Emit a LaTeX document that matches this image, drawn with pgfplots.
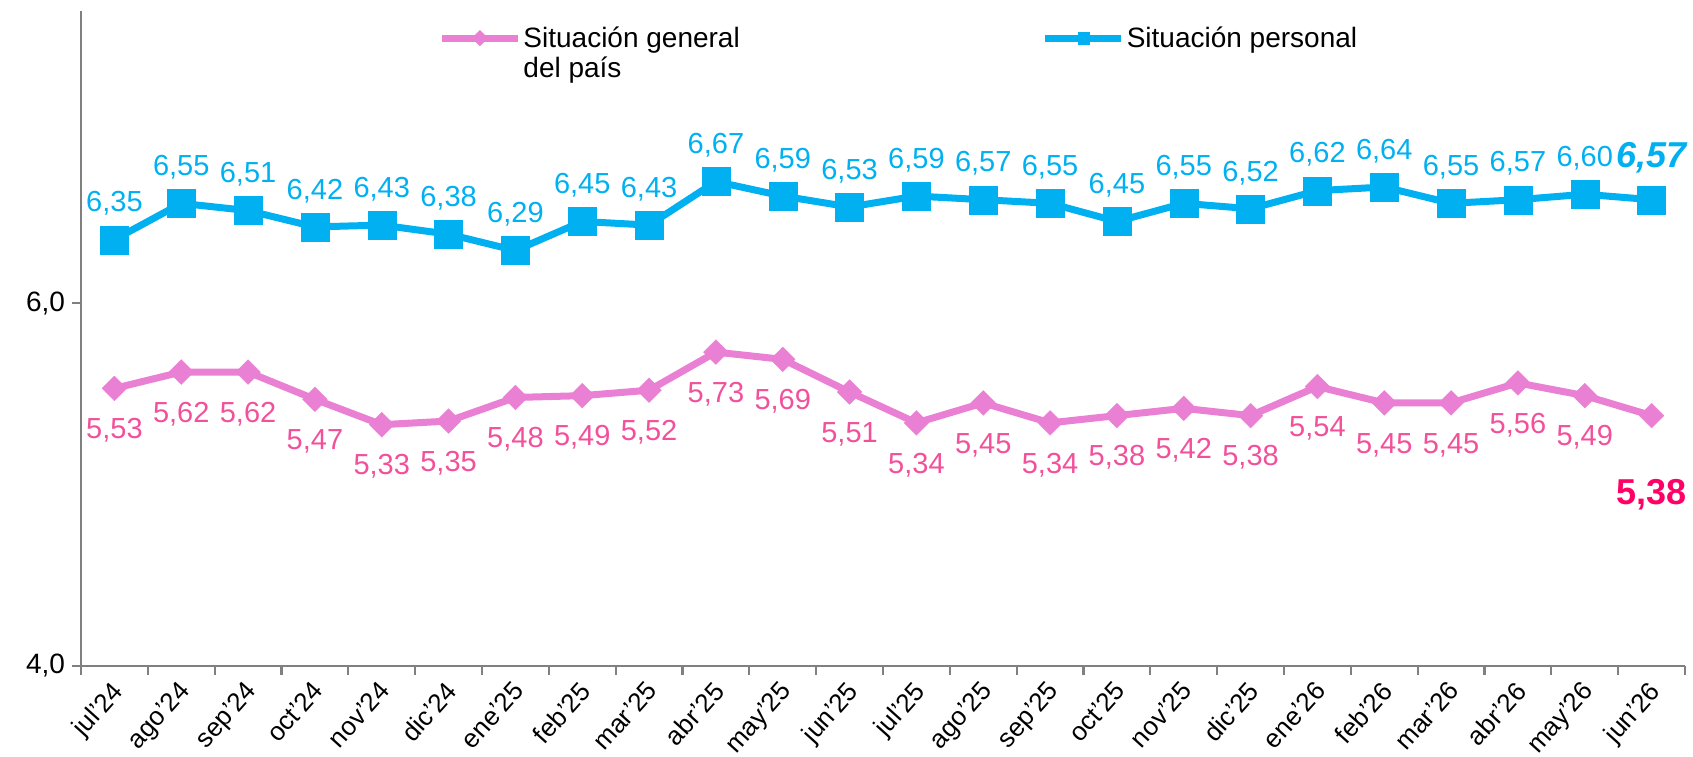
\documentclass[border=0pt]{standalone}
\usepackage{fontspec}
\setmainfont{Liberation Sans}
\usepackage{pgfplots}
\pgfplotsset{compat=1.18}
\usetikzlibrary{calc}
\definecolor{persblue}{RGB}{0,176,240}
\definecolor{paispink}{RGB}{234,128,212}
\definecolor{labpink}{RGB}{242,80,155}
\definecolor{lastpink}{RGB}{255,0,102}
\definecolor{axgray}{RGB}{128,128,128}

\begin{document}
\begin{tikzpicture}
\begin{axis}[
  scale only axis, width=802pt, height=327.5pt,
  xmin=-0.5, xmax=23.5, ymin=4, ymax=7.61,
  axis x line*=bottom, axis y line*=left,
  axis line style={axgray, line width=1.1pt},
  tick align=outside, major tick length=4.5pt,
  tick style={axgray, line width=1.1pt},
  xtick={-0.5,0.5,...,23.5}, x tick label as interval,
  xticklabels={jul'24,ago'24,sep'24,oct'24,nov'24,dic'24,ene'25,feb'25,mar'25,abr'25,may'25,jun'25,
    jul'25,ago'25,sep'25,oct'25,nov'25,dic'25,ene'26,feb'26,mar'26,abr'26,may'26,jun'26},
  xticklabel style={rotate=48, anchor=north east, inner sep=1pt, xshift=-2pt, yshift=1pt,
    font=\fontsize{13}{15}\selectfont},
  ytick={4,6},
  yticklabel style={font=\fontsize{14}{16}\selectfont,
    /pgf/number format/.cd, fixed, fixed zerofill, precision=1, use comma, assume math mode=true},
  clip=false,
  legend style={at={(rel axis cs:0.2226,0.98)}, anchor=north west, draw=none, fill=none,
    inner sep=0pt, legend columns=2, font=\fontsize{14}{14.5}\selectfont,
    cells={anchor=base west}, nodes={inner sep=1pt},
    /tikz/every even column/.append style={column sep=150pt}},
  legend image code/.code={\draw[mark repeat=2, mark phase=2, #1, line width=3.5pt, mark size=2.8pt]
    plot coordinates {(0pt,4.5pt) (19pt,4.5pt) (38pt,4.5pt)};},
  visualization depends on={value \coordindex \as \idx},
]
\addplot[color=paispink, line width=3.5pt, mark=square*,
  mark options={rotate=45, fill=paispink, draw=paispink, line width=0.1pt}, mark size=4.4pt,
  nodes near coords={\ifnum\idx=23 \fontsize{18}{20}\selectfont\bfseries\color{lastpink}\fi
    \pgfmathprintnumber[fixed, fixed zerofill, precision=2, use comma, assume math mode=true]{\pgfplotspointmeta}},
  every node near coord/.append style={font=\fontsize{14.5}{17}\selectfont, text=labpink,
    anchor=center, yshift={-21pt-18.5pt*(\idx==23)}}]
coordinates {
(0,5.53)(1,5.62)(2,5.62)(3,5.47)(4,5.33)(5,5.35)(6,5.48)(7,5.49)(8,5.52)(9,5.73)(10,5.69)(11,5.51)
(12,5.34)(13,5.45)(14,5.34)(15,5.38)(16,5.42)(17,5.38)(18,5.54)(19,5.45)(20,5.45)(21,5.56)(22,5.49)(23,5.38)
};
\addlegendentry{\begin{tabular}[t]{@{}l@{}}Situación general\\[0.5pt]del país\end{tabular}}
\addplot[color=persblue, line width=3.5pt, mark=square*,
  mark options={fill=persblue, draw=persblue, line width=0.1pt}, mark size=7pt,
  nodes near coords={\ifnum\idx=23 \fontsize{18}{20}\selectfont\bfseries\itshape\fi
    \pgfmathprintnumber[fixed, fixed zerofill, precision=2, use comma, assume math mode=true]{\pgfplotspointmeta}},
  every node near coord/.append style={font=\fontsize{14.5}{17}\selectfont, text=persblue,
    anchor=center, yshift={18pt+3pt*(\idx==23)}}]
coordinates {
(0,6.35)(1,6.55)(2,6.51)(3,6.42)(4,6.43)(5,6.38)(6,6.29)(7,6.45)(8,6.43)(9,6.67)(10,6.59)(11,6.53)
(12,6.59)(13,6.57)(14,6.55)(15,6.45)(16,6.55)(17,6.52)(18,6.62)(19,6.64)(20,6.55)(21,6.57)(22,6.60)(23,6.57)
};
\addlegendentry{Situación personal}
\end{axis}
\pgfresetboundingbox
\path[use as bounding box] ($(current axis.south west)+(-40.5pt,-45pt)$) rectangle ($(current axis.south west)+(806pt,333pt)$);
\end{tikzpicture}
\end{document}
